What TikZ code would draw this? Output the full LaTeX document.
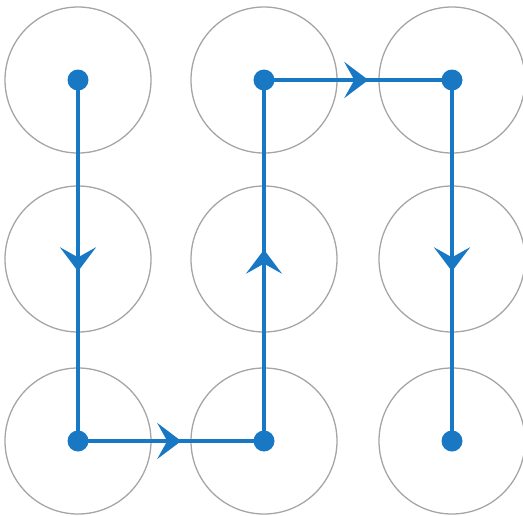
\documentclass[tikz,border=0pt]{standalone}
\usetikzlibrary{arrows.meta,decorations.markings}
\definecolor{pathblue}{RGB}{24,120,196}
\definecolor{ringgray}{RGB}{165,165,165}
\tikzset{
  ring/.style={circle, draw=ringgray, line width=1.3pt, minimum size=146pt, inner sep=0pt},
  dot/.style={circle, fill=pathblue, minimum size=21pt, inner sep=0pt},
  route/.style={draw=pathblue, line width=4.5pt},
  midarrow/.style={postaction={decorate, decoration={markings,
     mark=at position #1 with {\arrow[pathblue]{Stealth[length=24pt,width=36pt,inset=10pt]}}}}}
}
\begin{document}
\begin{tikzpicture}[x=1pt,y=-1pt]
\useasboundingbox (0,0) rectangle (523,515);
\foreach \c/\x in {1/78,2/264,3/452}{
  \foreach \r/\y in {1/80,2/259,3/441}{
    \node[ring] (r\c\r) at (\x,\y) {};
  }
}
\node[dot] (a) at (78,80) {};
\node[dot] (b) at (78,441) {};
\node[dot] (c) at (264,441) {};
\node[dot] (d) at (264,80) {};
\node[dot] (e) at (452,80) {};
\node[dot] (f) at (452,441) {};
\draw[route, midarrow=0.53] (a.center) -- (b.center);
\draw[route, midarrow=0.555] (b.center) -- (c.center);
\draw[route, midarrow=0.53] (c.center) -- (d.center);
\draw[route, midarrow=0.555] (d.center) -- (e.center);
\draw[route, midarrow=0.53] (e.center) -- (f.center);
\end{tikzpicture}
\end{document}
